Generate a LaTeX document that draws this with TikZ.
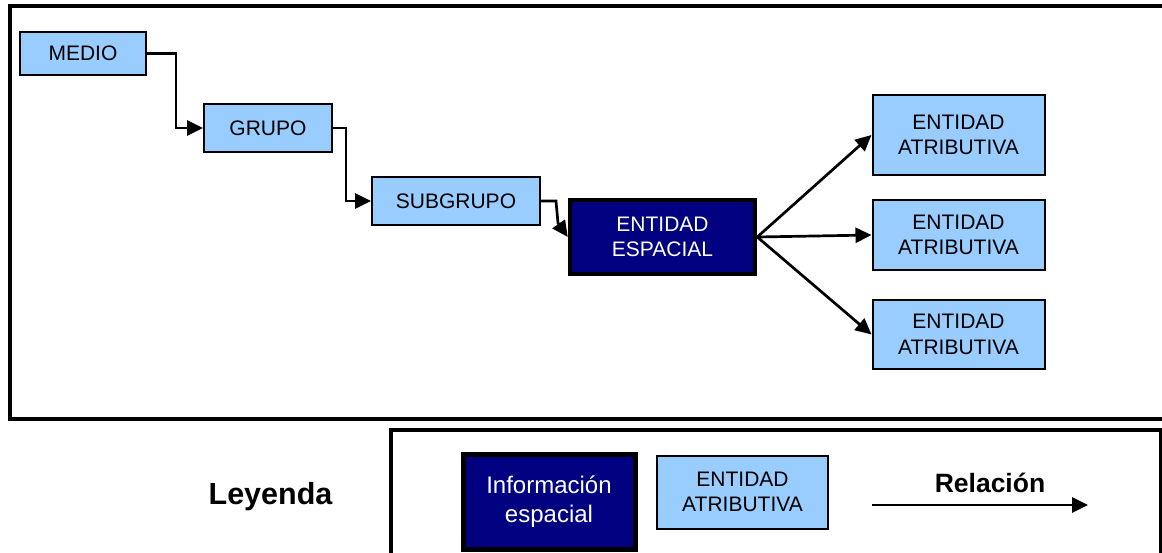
\documentclass[tikz,border=0pt]{standalone}
\usepackage{fontspec}
\setmainfont{Liberation Sans}
\usetikzlibrary{arrows.meta}
\definecolor{celeste}{HTML}{99CCFF}
\definecolor{marino}{HTML}{000080}
\tikzset{
  atrib/.style={draw, line width=2pt, fill=celeste, inner sep=0pt, align=center,
    font=\fontsize{21}{25.5}\selectfont},
  espac/.style={draw, line width=4.5pt, fill=marino, text=white, inner sep=0pt, align=center,
    font=\fontsize{21}{25.5}\selectfont},
  rel/.style={line width=2.7pt, -{Triangle[length=16pt,width=15pt]}},
  marco/.style={line width=4pt},
}

\begin{document}
\begin{tikzpicture}[x=1pt,y=-1pt]
        \useasboundingbox (0,0) rectangle (1162,552);
        \draw[marco] (10,6) rectangle (1175,419);
        \node[atrib, minimum width=126pt, minimum height=43pt] (medio) at (83,53.5) {MEDIO};
        \node[atrib, minimum width=128pt, minimum height=48pt] (grupo) at (268,128) {GRUPO};
        \node[atrib, minimum width=168pt, minimum height=48pt] (subgrupo) at (456,201) {SUBGRUPO};
        \node[espac, minimum width=185pt, minimum height=74pt] (espacial) at (662.5,237) {ENTIDAD\\ESPACIAL};
        \node[atrib, minimum width=172pt, minimum height=80pt] (atrib1) at (958.5,135) {ENTIDAD\\ATRIBUTIVA};
        \node[atrib, minimum width=172pt, minimum height=70pt] (atrib2) at (958.5,235) {ENTIDAD\\ATRIBUTIVA};
        \node[atrib, minimum width=172pt, minimum height=69pt] (atrib3) at (958.5,334.5) {ENTIDAD\\ATRIBUTIVA};
        \draw[rel] (medio.east) -- ++(29,0) |- (grupo.west);
        \draw[rel] (grupo.east) -- ++(13,0) |- (subgrupo.west);
        \draw[rel] (subgrupo.east) -- ++(15,0) -- ++(2,22) -- (espacial.west);
        \draw[rel] (espacial.east) -- (atrib1.west);
        \draw[rel] (espacial.east) -- (atrib2.west);
        \draw[rel] (espacial.east) -- (atrib3.west);
        % leyenda
        \draw[marco] (391,430) rectangle (1161,570);
        \node[font=\bfseries\fontsize{30.5}{36}\selectfont, anchor=base] (leyenda) at (270.5,504) {Leyenda};
        \node[espac, line width=5pt, minimum width=172pt, minimum height=95pt,
          font=\fontsize{24}{28.5}\selectfont] (info) at (549,501.5) {Información\\espacial};
        \node[atrib, minimum width=171pt, minimum height=73pt] (atribley) at (742.5,492) {ENTIDAD\\ATRIBUTIVA};
        \node[font=\bfseries\fontsize{26.5}{30}\selectfont, anchor=base] (relacion) at (990,492) {Relación};
        \coordinate (relini) at (872,505);
        \coordinate (relfin) at (1088,505);
        \draw[rel] (relini) -- (relfin);
    \end{tikzpicture}
\end{document}
